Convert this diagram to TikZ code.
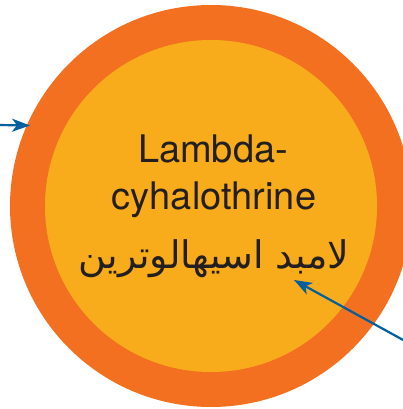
\documentclass[tikz,border=0pt]{standalone}
\usepackage{fontspec}
\setmainfont{TeX Gyre Heros}
\newfontfamily\arabicfont[Script=Arabic]{DejaVu Sans}
\TeXXeTstate=1
\usetikzlibrary{arrows.meta}
\definecolor{ringorange}{RGB}{243,112,33}
\definecolor{coreyellow}{RGB}{249,172,27}
\definecolor{pointerblue}{RGB}{0,95,158}
\definecolor{labelgray}{RGB}{35,31,32}
\tikzset{
    pointer/.style={draw=pointerblue, line width=2.2pt, -{Stealth[length=18pt,width=13pt,inset=5pt]}},
    label/.style={text=labelgray, inner sep=0pt, align=center}
}

\begin{document}
\begin{tikzpicture}[x=1pt,y=-1pt]
    \useasboundingbox (0,0) rectangle (403,409);
    \clip (0,0) rectangle (403,409);
    
    % rings
    \fill [ringorange] (211,206) circle (201);
    \fill [coreyellow] (211,206) circle (166);
    
    % names
    \node [label, anchor=base] (latin1) at (213,162) {\fontsize{38}{40}\selectfont Lambda-};
    \node [label, anchor=base] (latin2) at (214,209) {\fontsize{38}{40}\selectfont cyhalothrine};
    \node [label, anchor=base] (arabic) at (214,268) {\arabicfont\fontsize{38}{40}\selectfont\beginR لامبد اسيهالوترين\endR};
    
    % pointers
    \coordinate (leftend) at (-2,125);
    \coordinate (ringedge) at (30,125.5);
    \coordinate (rightend) at (405,341);
    \coordinate (arabictip) at (294,280);
    \draw [pointer] (leftend) -- (ringedge);
    \draw [pointer] (rightend) -- (arabictip);
    
\end{tikzpicture}
\end{document}
